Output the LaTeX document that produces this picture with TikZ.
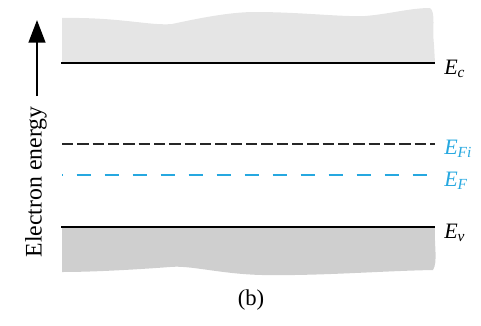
\documentclass[tikz,border=0pt]{standalone}
\usepackage{fontspec}
\setmainfont{Liberation Serif}
\usetikzlibrary{arrows.meta}
\definecolor{fermiblue}{RGB}{38,168,224}
\newcommand{\lvl}[2]{\textit{#1}\textsubscript{\textit{#2}}}

\tikzset{
  band/.style={line width=1.8pt},
  midgap/.style={line width=1.9pt, dash pattern=on 8.5pt off 3pt},
  fermi/.style={line width=1.9pt, fermiblue, dash pattern=on 11pt off 10pt, dash phase=10pt},
  lvllabel/.style={anchor=west, inner sep=0pt, font=\fontsize{16.5}{16.5}\selectfont}
}

\begin{document}
\begin{tikzpicture}[x=0.75pt,y=-0.75pt]
\useasboundingbox (0,0) rectangle (481,325);
% gray bands
\fill[black!10] (62,63) -- (62,18) .. controls (120,17) and (150,26) .. (172,24)
  .. controls (200,18) and (230,12) .. (255,12) .. controls (300,12) and (340,17) .. (365,16)
  .. controls (390,14) and (410,8) .. (430,8) .. controls (436,12) and (432,30) .. (434,45)
  -- (435,63) -- cycle;
\fill[black!19] (62,227) -- (435,227) .. controls (434,245) and (438,262) .. (433,270)
  .. controls (380,271) and (320,276) .. (262,275) .. controls (220,274) and (190,265) .. (170,267)
  .. controls (130,270) and (90,272) .. (62,272) -- cycle;
% levels
\coordinate (c0) at (61,63);   \coordinate (c1) at (435,63);
\coordinate (i0) at (62,144);  \coordinate (i1) at (435,144);
\coordinate (f0) at (62,175);  \coordinate (f1) at (435,175);
\coordinate (v0) at (61,227);  \coordinate (v1) at (435,227);
\draw[band] (c0) -- (c1);
\draw[midgap, black!85] (i0) -- (i1);
\draw[fermi] (f0) -- (f1);
\draw[band] (v0) -- (v1);
\node[lvllabel] (Ec) at (444,69) {\lvl E c};
\node[lvllabel, fermiblue] (EFi) at (444,149) {\lvl E {Fi}};
\node[lvllabel, fermiblue] (EF) at (444,181) {\lvl E F};
\node[lvllabel] (Ev) at (444,233) {\lvl E v};
% energy axis
\coordinate (foot) at (37,96);
\coordinate (tip) at (37,20);
\draw[line width=1.8pt, -{Triangle[length=17pt,width=12.5pt]}] (foot) -- (tip);
\node[rotate=90, font=\fontsize{17.8}{17.8}\selectfont] (axis) at (36,182) {Electron energy};
\node[font=\fontsize{17}{17}\selectfont] (cap) at (251,300) {(b)};
\end{tikzpicture}
\end{document}
